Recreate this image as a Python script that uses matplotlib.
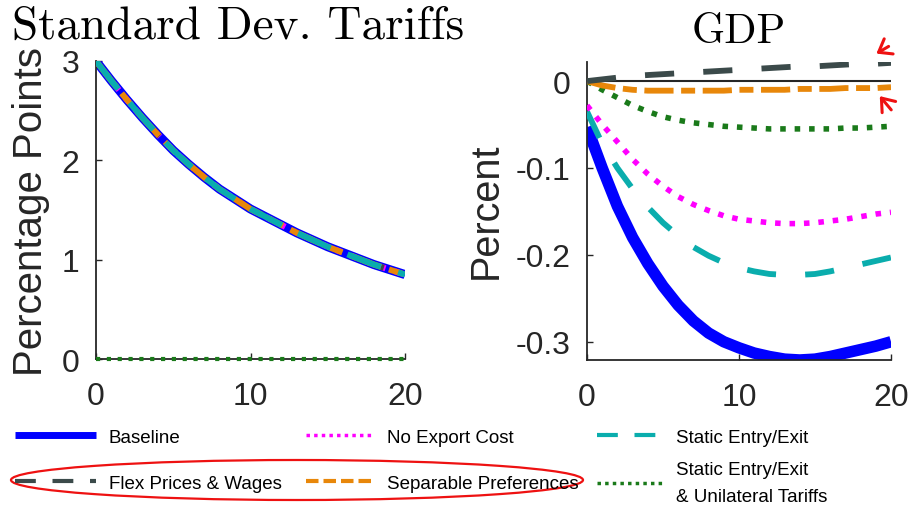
import matplotlib
matplotlib.use("Agg")
import matplotlib.pyplot as plt
from matplotlib.lines import Line2D
from matplotlib.patches import Ellipse, FancyArrowPatch

plt.rcParams['font.family'] = ['Liberation Sans', 'DejaVu Sans']

# horizon (quarters)
t = list(range(21))

# standard deviation of tariffs (percentage points), same path for all but the unilateral case
sd_tariff = [3.00, 2.80, 2.61, 2.43, 2.26, 2.10, 1.96, 1.83, 1.71, 1.61, 1.51,
             1.43, 1.35, 1.27, 1.20, 1.13, 1.07, 1.01, 0.95, 0.90, 0.85]
sd_unilateral = [0.0] * 21

# GDP responses (percent)
gdp_baseline = [-0.053, -0.100, -0.144, -0.180, -0.210, -0.236, -0.258, -0.276, -0.290, -0.300, -0.307,
                -0.313, -0.317, -0.320, -0.321, -0.320, -0.317, -0.313, -0.309, -0.305, -0.300]
gdp_no_export = [-0.028, -0.050, -0.070, -0.090, -0.107, -0.121, -0.133, -0.142, -0.149, -0.155, -0.159,
                 -0.161, -0.163, -0.164, -0.164, -0.163, -0.161, -0.159, -0.156, -0.153, -0.151]
gdp_static = [-0.035, -0.072, -0.100, -0.124, -0.145, -0.163, -0.178, -0.191, -0.201, -0.209, -0.215,
              -0.219, -0.222, -0.223, -0.223, -0.222, -0.219, -0.215, -0.211, -0.207, -0.203]
gdp_flex = [0.000, 0.002, 0.004, 0.006, 0.007, 0.008, 0.009, 0.010, 0.011, 0.012, 0.013,
            0.014, 0.015, 0.016, 0.017, 0.017, 0.018, 0.019, 0.020, 0.020, 0.021]
gdp_separable = [0.000, -0.005, -0.008, -0.010, -0.011, -0.011, -0.011, -0.011, -0.011, -0.011, -0.010,
                 -0.010, -0.010, -0.010, -0.009, -0.009, -0.009, -0.008, -0.008, -0.008, -0.007]
gdp_static_uni = [0.000, -0.010, -0.019, -0.028, -0.035, -0.041, -0.045, -0.048, -0.050, -0.052, -0.053,
                  -0.054, -0.055, -0.055, -0.055, -0.055, -0.055, -0.054, -0.054, -0.053, -0.052]

labels = ['Baseline', 'No Export Cost', 'Static Entry/Exit', 'Flex Prices & Wages',
          'Separable Preferences', 'Static Entry/Exit\n& Unilateral Tariffs']

BLUE = '#0000ff'
MAG = '#ff00ff'
CYAN = '#0aadad'
GRAY = '#3b4a4a'
ORANGE = '#e8870a'
GREEN = '#1a7a1a'
RED = '#ee1111'

W, H = 910, 506
fig = plt.figure(figsize=(W / 100, H / 100), dpi=100)


def px(x0, y0, x1, y1):
    # pixel box -> figure fraction rect
    return [x0 / W, 1 - y1 / H, (x1 - x0) / W, (y1 - y0) / H]


def style(ax):
    for s in ['top', 'right']:
        ax.spines[s].set_visible(False)
    for s in ['left', 'bottom']:
        ax.spines[s].set_linewidth(1.3)
        ax.spines[s].set_color('#262626')
    ax.tick_params(direction='in', length=4, width=1.0, labelsize=23, colors='#262626',
                   labelcolor='#262626')
    ax.tick_params(axis='x', pad=16)
    ax.tick_params(axis='y', pad=12)
    ax.set_xlim(0, 20)
    ax.set_xticks([0, 10, 20])


dot = (0, (1.0, 1.6))
dash = (0, (5.5, 5.5))
dashdot = (0, (5.5, 1.4, 2.6, 1.4))

# left panel
ax1 = fig.add_axes(px(96, 62, 405, 360))
style(ax1)
ax1.plot(t, sd_tariff, color=BLUE, lw=6.5, solid_capstyle='butt', zorder=2)
ax1.plot(t, sd_tariff, color=MAG, lw=4.3, ls=dot, dash_capstyle='butt', zorder=3)
ax1.plot(t, sd_tariff, color=GRAY, lw=4.3, ls=dash, dash_capstyle='butt', zorder=3)
ax1.plot(t, sd_tariff, color=ORANGE, lw=4.3, ls=dashdot, dash_capstyle='butt', zorder=4)
ax1.plot(t, sd_tariff, color=CYAN, lw=4.3, ls=(0, (6, 3)), dash_capstyle='butt', zorder=5)
ax1.plot(t, sd_unilateral, color=GREEN, lw=3, ls=dot, dash_capstyle='butt', zorder=6, clip_on=False)
ax1.set_ylim(0, 3)
ax1.set_yticks([0, 1, 2, 3])

# right panel
ax2 = fig.add_axes(px(587, 63, 891, 361))
style(ax2)
ax2.axhline(0, color='#262626', lw=1.5, zorder=1)
ax2.plot(t, gdp_baseline, color=BLUE, lw=8.3, solid_capstyle='butt', zorder=2)
ax2.plot(t, gdp_static, color=CYAN, lw=4.2, ls=(0, (5, 5)), dash_capstyle='butt', zorder=3)
ax2.plot(t, gdp_no_export, color=MAG, lw=4.0, ls=dot, dash_capstyle='butt', zorder=3)
ax2.plot(t, gdp_static_uni, color=GREEN, lw=4.0, ls=dot, dash_capstyle='butt', zorder=3)
ax2.plot(t, gdp_separable, color=ORANGE, lw=4.2, ls=(0, (5, 1.3, 2.4, 1.3)), dash_capstyle='butt', zorder=4)
ax2.plot(t, gdp_flex, color=GRAY, lw=4.2, ls=(0, (5, 5)), dash_capstyle='butt', zorder=4)
ax2.set_ylim(-0.321, 0.022)
ax2.set_yticks([-0.3, -0.2, -0.1, 0])
ax2.set_yticklabels(['-0.3', '-0.2', '-0.1', '0'])

# titles and axis labels
fig.text(238 / W, 1 - 39 / H, 'Standard Dev. Tariffs', family='cmr10', fontsize=34,
         ha='center', va='baseline')
fig.text(739 / W, 1 - 43 / H, 'GDP', family='cmr10', fontsize=30.5, ha='center', va='baseline')
fig.text(31 / W, 1 - 211 / H, 'Percentage Points', fontsize=29, rotation=90,
         ha='center', va='center', color='#262626')
fig.text(486 / W, 1 - 211 / H, 'Percent', fontsize=28.5, rotation=90,
         ha='center', va='center', color='#262626')

# legend: one small legend per entry so positions follow the original grid
handles = [
    Line2D([], [], color=BLUE, lw=5, solid_capstyle='butt'),
    Line2D([], [], color=MAG, lw=2.5, ls=(0, (1, 1.2)), dash_capstyle='butt'),
    Line2D([], [], color=CYAN, lw=3, ls=(0, (5, 4)), dash_capstyle='butt'),
    Line2D([], [], color=GRAY, lw=3, ls=(0, (5, 4)), dash_capstyle='butt'),
    Line2D([], [], color=ORANGE, lw=3, ls=(0, (3, 1.2)), dash_capstyle='butt'),
    Line2D([], [], color=GREEN, lw=2.5, ls=(0, (1, 1.2)), dash_capstyle='butt'),
]
leg_x = [15, 306, 597, 15, 306, 597]
leg_y = [438, 438, 438, 484, 484, 484]
leg_len = [4.3, 3.6, 3.5, 4.3, 3.6, 3.5]
for h, lab, x, y, hl in zip(handles, labels, leg_x, leg_y, leg_len):
    lg = fig.legend([h], [lab], loc='center left', bbox_to_anchor=(x / W, 1 - y / H),
                    frameon=False, fontsize=13.5, handlelength=hl, handletextpad=0.7,
                    borderpad=0, borderaxespad=0)
    for tx in lg.get_texts():
        tx.set_linespacing(1.8)

# red hand annotations
fig.add_artist(Ellipse((297 / W, 1 - 481 / H), 572 / W, 40 / H, fill=False,
                       edgecolor=RED, lw=1.6, transform=fig.transFigure))
fig.add_artist(FancyArrowPatch((891 / W, 1 - 46 / H), (874 / W, 1 - 56 / H),
               transform=fig.transFigure, arrowstyle='->,head_length=0.6,head_width=0.45',
               mutation_scale=14, color=RED, lw=2.2))
fig.add_artist(FancyArrowPatch((893 / W, 1 - 113 / H), (878 / W, 1 - 95 / H),
               transform=fig.transFigure, arrowstyle='->,head_length=0.6,head_width=0.45',
               mutation_scale=14, color=RED, lw=2.2))

fig.savefig('out.png', dpi=100)
